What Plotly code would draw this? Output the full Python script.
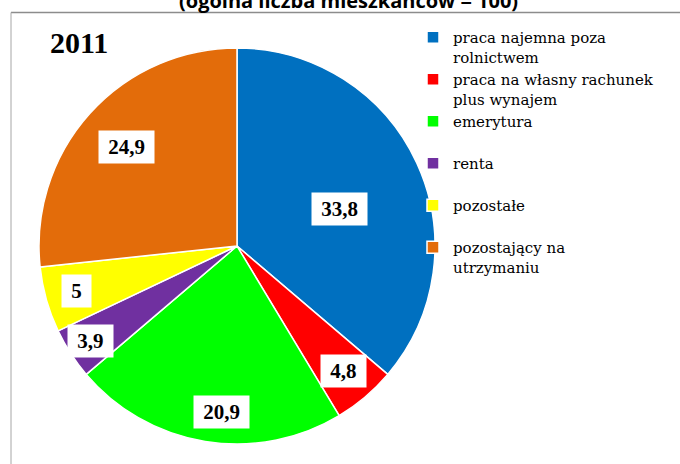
import math
import plotly.graph_objects as go

# ---- data ----
categories = [
    "praca najemna poza<br>rolnictwem",
    "praca na własny rachunek<br>plus wynajem",
    "emerytura<br>\u00a0",
    "renta<br>\u00a0",
    "pozostałe<br>\u00a0",
    "pozostający na<br>utrzymaniu",
]
values = [33.8, 4.8, 20.9, 3.9, 5, 24.9]
year_label = "2011"
title_text = "(ogólna liczba mieszkańców = 100)"

# ---- style ----
colors = ["#0070C0", "#FF0000", "#00FF00", "#7030A0", "#FFFF00", "#E36C0A"]
label_radius = [0.55, 0.83, 0.84, 0.88, 0.84, 0.75]  # fraction of radius for value boxes
label_shift_deg = [5, 0, -4, 0, 0, 0]                 # small angular nudges of value boxes

W, H = 680, 464
CX, CY, R = 237, 246, 198  # pie centre / radius in px (layout)

fig = go.Figure()
fig.add_trace(go.Pie(
    labels=categories,
    values=values,
    sort=False,
    direction="clockwise",
    rotation=0,
    marker=dict(colors=colors, line=dict(color="white", width=1.5)),
    textinfo="none",
    hoverinfo="label+value",
    domain=dict(x=[(CX - R) / W, (CX + R) / W],
                y=[(H - CY - R) / H, (H - CY + R) / H]),
))

# value boxes positioned from the data (mid-angle of each slice)
total = sum(values)
cum = 0.0
annotations = []
for v, rf, sh in zip(values, label_radius, label_shift_deg):
    mid = (cum + v / 2) / total * 2 * math.pi + math.radians(sh)
    cum += v
    x = CX / W + rf * R * math.sin(mid) / W
    y = (H - CY) / H + rf * R * math.cos(mid) / H
    txt = ("%g" % v).replace(".", ",")
    annotations.append(dict(
        x=x, y=y, xref="paper", yref="paper", showarrow=False,
        text="\u00a0" + txt + "\u00a0",
        font=dict(family="Liberation Serif", size=21, color="black", weight="bold"),
        bgcolor="white", borderpad=4, xanchor="center", yanchor="middle",
    ))

annotations.append(dict(
    x=48 / W, y=1 - 43 / H, xref="paper", yref="paper", showarrow=False,
    text=year_label, xanchor="left", yanchor="middle",
    font=dict(family="Liberation Serif", size=30, color="black", weight="bold"),
))
annotations.append(dict(
    x=348 / W, y=1 - 15 / H, xref="paper", yref="paper", showarrow=False,
    text=title_text, xanchor="center", yanchor="bottom", borderpad=0,
    font=dict(family="Open Sans", size=20, color="black", weight="bold"),
))

shapes = [
    dict(type="line", xref="paper", yref="paper", x0=11 / W, x1=1.05, y0=1 - 12.5 / H, y1=1 - 12.5 / H,
         line=dict(color="#8C8C8C", width=1.5)),
    dict(type="line", xref="paper", yref="paper", x0=11 / W, x1=11 / W, y0=-0.05, y1=1 - 12.5 / H,
         line=dict(color="#A6A6A6", width=1)),
]

fig.update_layout(
    width=W, height=H,
    margin=dict(l=0, r=0, t=0, b=0),
    paper_bgcolor="white",
    plot_bgcolor="white",
    showlegend=True,
    legend=dict(
        x=413 / W, y=1 - 21 / H, xanchor="left", yanchor="top",
        font=dict(family="DejaVu Serif", size=15, color="black"),
        valign="top", bgcolor="rgba(0,0,0,0)", itemwidth=30,
        traceorder="normal",
    ),
    annotations=annotations,
    shapes=shapes,
)

fig.write_html(
    "out.html",
    config={"displayModeBar": False},
    post_script="document.body.style.margin='0';document.body.style.padding='0';"
                "document.body.style.overflow='hidden';",
)
